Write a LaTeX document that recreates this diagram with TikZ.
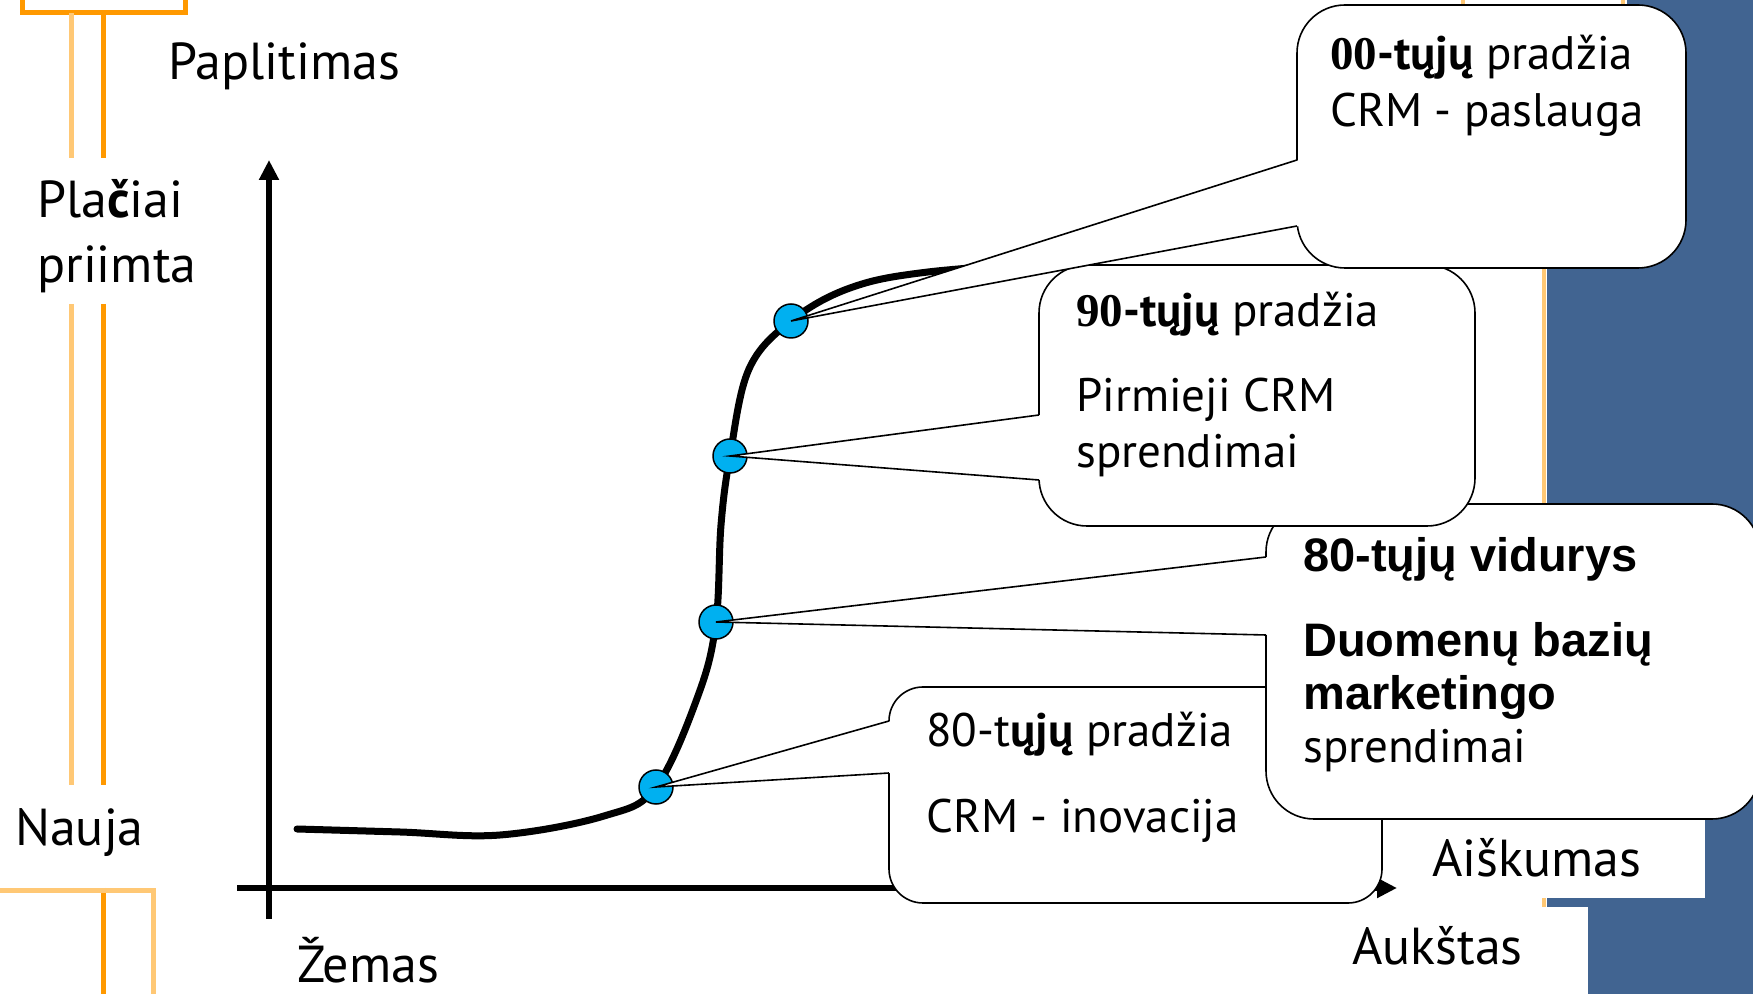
\documentclass[tikz,border=0pt]{standalone}
\usepackage{fontspec}
\setmainfont{PT Sans}
\newfontfamily\arialfont{Liberation Sans}
\newfontfamily\timesfont{Liberation Serif}
\usetikzlibrary{arrows.meta,positioning,calc}

\definecolor{darkorange}{RGB}{255,153,0}
\definecolor{lightorange}{RGB}{255,200,117}
\definecolor{slideblue}{RGB}{65,100,145}
\definecolor{dotblue}{RGB}{0,176,240}

\tikzset{
  axis/.style={line width=6pt,-{Triangle[width=19pt,length=20pt]}},
  scurve/.style={line width=7pt,line cap=round},
  pointdot/.style={circle,draw=black,fill=dotblue,line width=1.5pt,minimum size=34pt,inner sep=0pt},
  callout/.style={draw=black,fill=white,line width=1.6pt,rounded corners=48pt,inner sep=0pt,outer sep=0pt},
  tail/.style={draw=black,line width=1.6pt,line join=miter},
  lbl/.style={anchor=base west,inner sep=0pt,font=\fontsize{52}{60}\selectfont},
  ctext/.style={anchor=base west,inner sep=0pt,font=\fontsize{47}{56}\selectfont},
  btext/.style={anchor=base west,inner sep=0pt,font=\fontsize{47}{56}\selectfont\arialfont\bfseries},
}

\begin{document}
\begin{tikzpicture}[x=1pt,y=1pt]
    \useasboundingbox (0,0) rectangle (1753,993);

    % slide background
    \fill[slideblue] (1627,1000) -- (1760,1000) -- (1760,-5) -- (1547,-5) -- (1547,843) -- (1627,843) -- cycle;
    \draw[lightorange,line width=4pt] (1544,843) -- (1544,86);
    \draw[lightorange,line width=4pt] (1463,1000) -- (1463,900);
    \draw[lightorange,line width=4pt] (1623,1000) -- (1623,900);
    \fill[white] (1405,177) rectangle (1705,95);
    \fill[white] (1330,86) rectangle (1588,-5);

    % left ornaments
    \draw[darkorange,line width=5pt] (22,1010) rectangle (185,980);
    \draw[darkorange,line width=5pt] (103,980) -- (103,835) (103,689) -- (103,208) (103,105) -- (103,-5);
    \draw[lightorange,line width=5pt] (71,980) -- (71,835) (71,689) -- (71,208) (71,105) -- (71,100);
    \draw[lightorange,line width=5pt] (-5,102) -- (153,102) -- (153,-5);

    % axes
    \coordinate (ybot) at (269,74);
    \coordinate (ytop) at (269,833);
    \coordinate (xleft) at (237,105);
    \coordinate (xright) at (1397,105);
    \draw[axis] (ybot) -- (ytop);
    \draw[axis] (xleft) -- (xright);

    % diffusion curve
    \coordinate (p1) at (656,206);
    \coordinate (p2) at (716,371);
    \coordinate (p3) at (730,537);
    \coordinate (p4) at (791,672);
    \draw[scurve] plot[smooth,tension=0.6] coordinates {(297,164) (400,161) (500,158) (604,177) (p1) (699,300) (p2) (721,468) (p3) (749,624) (p4) (850,705) (928,721) (1080,733)};

    \node[pointdot] (d1) at (p1) {};
    \node[pointdot] (d2) at (p2) {};
    \node[pointdot] (d3) at (p3) {};
    \node[pointdot] (d4) at (p4) {};

    % 80s start
    \node[callout,rounded corners=34pt,minimum width=493pt,minimum height=216pt] (cpra) at (1135.5,198) {};
    \fill[white] ([xshift=2pt,yshift=74pt]cpra.west) -- (d1.center) -- ([xshift=2pt,yshift=22pt]cpra.west) -- cycle;
    \draw[tail] ([yshift=74pt]cpra.west) -- (d1.center) -- ([yshift=22pt]cpra.west);
    \node[ctext] (tpra1) at (926,246) {80-t\textbf{ųjų} pradžia};
    \node[ctext] (tpra2) at (926,160) {CRM - inovacija};

    % 80s middle
    \node[callout,minimum width=494pt,minimum height=315pt] (cvid) at (1513,331.5) {};
    \fill[white] ([xshift=2pt,yshift=104.5pt]cvid.west) -- (d2.center) -- ([xshift=2pt,yshift=26.5pt]cvid.west) -- cycle;
    \draw[tail] ([yshift=104.5pt]cvid.west) -- (d2.center) -- ([yshift=26.5pt]cvid.west);
    \node[btext] (tvid1) at (1303,421) {80-tųjų vidurys};
    \node[btext] (tvid2) at (1303,336) {Duomenų bazių};
    \node[btext] (tvid3) at (1303,283) {marketingo};
    \node[ctext] (tvid4) at (1303,230) {sprendimai};

    % 90s start
    \node[callout,minimum width=436pt,minimum height=261pt] (c90) at (1257,597.5) {};
    \fill[white] ([xshift=2pt,yshift=-19.5pt]c90.west) -- (d3.center) -- ([xshift=2pt,yshift=-84.5pt]c90.west) -- cycle;
    \draw[tail] ([yshift=-19.5pt]c90.west) -- (d3.center) -- ([yshift=-84.5pt]c90.west);
    \node[ctext] (t901) at (1076,666) {{\timesfont\bfseries 90}\textbf{-tųjų} pradžia};
    \node[ctext] (t902) at (1076,581) {Pirmieji CRM};
    \node[ctext] (t903) at (1076,525) {sprendimai};

    % 00s start
    \node[callout,minimum width=389pt,minimum height=263pt] (c00) at (1491.5,856.5) {};
    \fill[white] ([xshift=2pt,yshift=-23.5pt]c00.west) -- (d4.center) -- ([xshift=2pt,yshift=-89.5pt]c00.west) -- cycle;
    \draw[tail] ([yshift=-23.5pt]c00.west) -- (d4.center) -- ([yshift=-89.5pt]c00.west);
    \node[ctext] (t001) at (1330,923) {{\timesfont\bfseries 00}\textbf{-tųjų} pradžia};
    \node[ctext] (t002) at (1330,866) {CRM - paslauga};

    % axis labels
    \node[lbl] (paplitimas) at (168,913) {Paplitimas};
    \node[lbl] (placiai) at (37,775) {Pla\textbf{č}iai};
    \node[lbl] (priimta) at (37,710) {priimta};
    \node[lbl] (nauja) at (15,147) {Nauja};
    \node[lbl] (zemas) at (297,11) {Žemas};
    \node[lbl] (aukstas) at (1352,28) {Aukštas};
    \node[lbl] (aiskumas) at (1432,116) {Aiškumas};
\end{tikzpicture}
\end{document}
